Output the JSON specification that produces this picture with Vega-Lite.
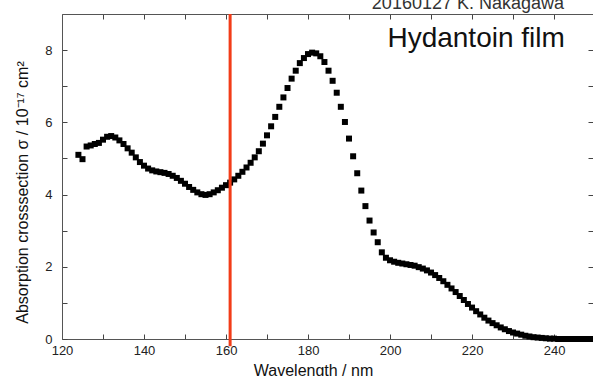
{
  "$schema": "https://vega.github.io/schema/vega-lite/v6.json",
  "width": 531,
  "height": 325,
  "autosize": {"type": "none"},
  "padding": {"left": 62, "top": 14, "right": 0, "bottom": 37},
  "background": "white",
  "config": {"view": {"stroke": null}, "font": "Liberation Sans"},
  "layer": [
    {
      "data": {"values": [
        {"wavelength":124,"sigma":5.10},{"wavelength":125,"sigma":4.98},{"wavelength":126,"sigma":5.33},{"wavelength":127,"sigma":5.36},
        {"wavelength":128,"sigma":5.40},{"wavelength":129,"sigma":5.43},{"wavelength":130,"sigma":5.52},{"wavelength":131,"sigma":5.60},
        {"wavelength":132,"sigma":5.62},{"wavelength":133,"sigma":5.58},{"wavelength":134,"sigma":5.50},{"wavelength":135,"sigma":5.40},
        {"wavelength":136,"sigma":5.28},{"wavelength":137,"sigma":5.16},{"wavelength":138,"sigma":5.03},{"wavelength":139,"sigma":4.90},
        {"wavelength":140,"sigma":4.80},{"wavelength":141,"sigma":4.72},{"wavelength":142,"sigma":4.67},{"wavelength":143,"sigma":4.64},
        {"wavelength":144,"sigma":4.62},{"wavelength":145,"sigma":4.60},{"wavelength":146,"sigma":4.57},{"wavelength":147,"sigma":4.52},
        {"wavelength":148,"sigma":4.46},{"wavelength":149,"sigma":4.38},{"wavelength":150,"sigma":4.30},{"wavelength":151,"sigma":4.21},
        {"wavelength":152,"sigma":4.13},{"wavelength":153,"sigma":4.06},{"wavelength":154,"sigma":4.01},{"wavelength":155,"sigma":3.99},
        {"wavelength":156,"sigma":4.01},{"wavelength":157,"sigma":4.06},{"wavelength":158,"sigma":4.12},{"wavelength":159,"sigma":4.19},
        {"wavelength":160,"sigma":4.26},{"wavelength":161,"sigma":4.33},{"wavelength":162,"sigma":4.42},{"wavelength":163,"sigma":4.52},
        {"wavelength":164,"sigma":4.63},{"wavelength":165,"sigma":4.75},{"wavelength":166,"sigma":4.88},{"wavelength":167,"sigma":5.03},
        {"wavelength":168,"sigma":5.20},{"wavelength":169,"sigma":5.41},{"wavelength":170,"sigma":5.64},{"wavelength":171,"sigma":5.89},
        {"wavelength":172,"sigma":6.15},{"wavelength":173,"sigma":6.43},{"wavelength":174,"sigma":6.69},{"wavelength":175,"sigma":6.95},
        {"wavelength":176,"sigma":7.21},{"wavelength":177,"sigma":7.43},{"wavelength":178,"sigma":7.64},{"wavelength":179,"sigma":7.78},
        {"wavelength":180,"sigma":7.89},{"wavelength":181,"sigma":7.93},{"wavelength":182,"sigma":7.91},{"wavelength":183,"sigma":7.83},
        {"wavelength":184,"sigma":7.67},{"wavelength":185,"sigma":7.43},{"wavelength":186,"sigma":7.15},{"wavelength":187,"sigma":6.82},
        {"wavelength":188,"sigma":6.43},{"wavelength":189,"sigma":6.01},{"wavelength":190,"sigma":5.55},{"wavelength":191,"sigma":5.06},
        {"wavelength":192,"sigma":4.59},{"wavelength":193,"sigma":4.11},{"wavelength":194,"sigma":3.68},{"wavelength":195,"sigma":3.28},
        {"wavelength":196,"sigma":2.95},{"wavelength":197,"sigma":2.68},{"wavelength":198,"sigma":2.40},{"wavelength":199,"sigma":2.25},
        {"wavelength":200,"sigma":2.18},{"wavelength":201,"sigma":2.14},{"wavelength":202,"sigma":2.11},{"wavelength":203,"sigma":2.09},
        {"wavelength":204,"sigma":2.07},{"wavelength":205,"sigma":2.05},{"wavelength":206,"sigma":2.03},{"wavelength":207,"sigma":1.99},
        {"wavelength":208,"sigma":1.95},{"wavelength":209,"sigma":1.90},{"wavelength":210,"sigma":1.84},{"wavelength":211,"sigma":1.77},
        {"wavelength":212,"sigma":1.69},{"wavelength":213,"sigma":1.60},{"wavelength":214,"sigma":1.50},{"wavelength":215,"sigma":1.40},
        {"wavelength":216,"sigma":1.30},{"wavelength":217,"sigma":1.19},{"wavelength":218,"sigma":1.08},{"wavelength":219,"sigma":0.97},
        {"wavelength":220,"sigma":0.87},{"wavelength":221,"sigma":0.77},{"wavelength":222,"sigma":0.68},{"wavelength":223,"sigma":0.59},
        {"wavelength":224,"sigma":0.51},{"wavelength":225,"sigma":0.44},{"wavelength":226,"sigma":0.38},{"wavelength":227,"sigma":0.32},
        {"wavelength":228,"sigma":0.27},{"wavelength":229,"sigma":0.22},{"wavelength":230,"sigma":0.18},{"wavelength":231,"sigma":0.15},
        {"wavelength":232,"sigma":0.12},{"wavelength":233,"sigma":0.09},{"wavelength":234,"sigma":0.07},{"wavelength":235,"sigma":0.05},
        {"wavelength":236,"sigma":0.04},{"wavelength":237,"sigma":0.03},{"wavelength":238,"sigma":0.02},{"wavelength":239,"sigma":0.01},
        {"wavelength":240,"sigma":0.01},{"wavelength":241,"sigma":0.0},{"wavelength":242,"sigma":0.0},{"wavelength":243,"sigma":0.0},
        {"wavelength":244,"sigma":0.0},{"wavelength":245,"sigma":0.0},{"wavelength":246,"sigma":0.0},{"wavelength":247,"sigma":0.0},
        {"wavelength":248,"sigma":0.0},{"wavelength":249,"sigma":0.0}
      ]},
      "mark": {"type": "square", "size": 36, "color": "#000000", "opacity": 1},
      "encoding": {
        "x": {
          "field": "wavelength", "type": "quantitative",
          "scale": {"domain": [120, 249.5], "nice": false, "zero": false},
          "axis": {
            "orient": "bottom",
            "values": [120,130,140,150,160,170,180,190,200,210,220,230,240],
            "labelExpr": "datum.value % 20 == 0 ? datum.label : ''",
            "grid": false, "tickSize": -5, "labelPadding": 10,
            "domainColor": "#555555", "tickColor": "#444444",
            "labelFontSize": 13, "labelColor": "#222222", "labelFlush": false,
            "title": "Wavelength  /  nm", "titleFontSize": 16, "titleFontWeight": "normal",
            "titleColor": "#111111", "titleX": 251, "titleY": 23, "titleBaseline": "top"
          }
        },
        "y": {
          "field": "sigma", "type": "quantitative",
          "scale": {"domain": [0, 9], "nice": false},
          "axis": {
            "orient": "left",
            "values": [0,1,2,3,4,5,6,7,8],
            "labelExpr": "datum.value % 2 == 0 ? datum.label : ''",
            "grid": false, "tickSize": -5, "labelPadding": 15,
            "domainColor": "#555555", "tickColor": "#444444",
            "labelFontSize": 13, "labelColor": "#222222",
            "title": "Absorption crosssection  σ / 10⁻¹⁷ cm²", "titleFontSize": 16, "titleFontWeight": "normal",
            "titleColor": "#111111", "titleX": -40, "titleY": 178, "titleAngle": 270, "titleAlign": "center", "titleBaseline": "middle"
          }
        }
      }
    },
    {
      "data": {"values": [{"line": 161, "low": -0.2, "high": 9}]},
      "mark": {"type": "rule", "color": "#f23c18", "strokeWidth": 3, "clip": false},
      "encoding": {
        "x": {
          "field": "line", "type": "quantitative",
          "scale": {"domain": [120, 249.5], "nice": false, "zero": false},
          "axis": {"orient": "top", "values": [120,130,140,150,160,170,180,190,200,210,220,230,240], "labels": false, "title": null, "grid": false, "tickSize": -5, "domainColor": "#555555", "tickColor": "#444444"}
        },
        "y": {
          "field": "low", "type": "quantitative",
          "scale": {"domain": [0, 9], "nice": false},
          "axis": {"orient": "right", "values": [0,1,2,3,4,5,6,7,8], "labels": false, "title": null, "grid": false, "tickSize": -5, "domainColor": "#555555", "tickColor": "#444444"}
        },
        "y2": {"field": "high"}
      }
    },
    {
      "data": {"values": [{"label": "Hydantoin film"}]},
      "mark": {"type": "text", "fontSize": 28, "align": "center", "baseline": "alphabetic", "color": "#111111", "font": "Liberation Sans"},
      "encoding": {
        "x": {"datum": 221, "type": "quantitative", "scale": {"domain": [120, 249.5], "nice": false, "zero": false}, "axis": null},
        "y": {"datum": 8.08, "type": "quantitative", "scale": {"domain": [0, 9], "nice": false}, "axis": null},
        "text": {"field": "label"}
      }
    },
    {
      "data": {"values": [{"label": "20160127 K. Nakagawa"}]},
      "mark": {"type": "text", "fontSize": 18, "align": "center", "baseline": "alphabetic", "color": "#333333", "font": "Liberation Sans", "clip": false},
      "encoding": {
        "x": {"datum": 219, "type": "quantitative", "scale": {"domain": [120, 249.5], "nice": false, "zero": false}, "axis": null},
        "y": {"datum": 9.15, "type": "quantitative", "scale": {"domain": [0, 9], "nice": false}, "axis": null},
        "text": {"field": "label"}
      }
    }
  ],
  "resolve": {"scale": {"x": "independent", "y": "independent"}}
}
